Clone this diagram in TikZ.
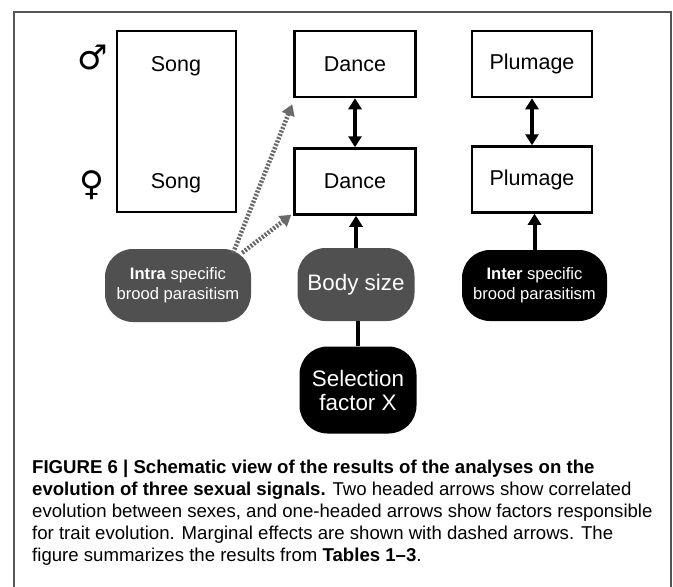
\documentclass[tikz,border=0pt]{standalone}
\usepackage{fontspec}
\setmainfont{Liberation Sans}
\newfontfamily\symfont{DejaVu Sans}
\usetikzlibrary{
    arrows.meta,
    positioning
}
\definecolor{ink}{RGB}{0,0,0}
\definecolor{frameline}{RGB}{85,85,85}
\definecolor{factorgray}{RGB}{80,80,80}
\definecolor{weakline}{RGB}{105,105,105}
\tikzset{
    trait/.style={
        rectangle,
        draw=ink,
        line width=2.5pt,
        fill=white,
        minimum width=121pt,
        minimum height=66pt,
        inner sep=0pt,
        font=\fontsize{21.5}{25}\selectfont
    },
    traitlabel/.style={
        inner sep=0pt,
        font=\fontsize{21.5}{25}\selectfont
    },
    sexsign/.style={
        inner sep=0pt,
        font=\symfont\fontsize{34}{34}\selectfont
    },
    factor/.style={
        rectangle,
        rounded corners=28pt,
        fill=factorgray,
        text=white,
        minimum width=117pt,
        minimum height=73pt,
        inner sep=0pt,
        align=center,
        font=\fontsize{22.4}{24}\selectfont
    },
    factorblack/.style={factor, fill=black},
    parasite/.style={font=\fontsize{16.6}{20}\selectfont},
    corr/.style={
        {Triangle[width=13pt,length=11pt]}-{Triangle[width=13pt,length=11pt]},
        draw=ink,
        line width=4pt
    },
    effect/.style={
        -{Triangle[width=13pt,length=11pt]},
        draw=ink,
        line width=4pt
    },
    marginal/.style={
        effect,
        draw=weakline,
        line width=4.5pt,
        dash pattern=on 2pt off 1.6pt
    },
    link/.style={
        draw=ink,
        line width=4pt
    },
    caption/.style={
        anchor=north west,
        inner sep=0pt,
        align=left,
        font=\fontsize{18.6}{22}\selectfont
    }
}

\begin{document}
\begin{tikzpicture}[x=1pt, y=-1pt]
\useasboundingbox (0,0) rectangle (673,587);

% frame, open at the bottom
\draw[frameline, line width=1.5pt] (14,587) -- (14,12) -- (671,12) -- (671,587);

% Song: one box for both sexes
\node[trait, minimum width=119pt, minimum height=181pt] (song) at (176.5,121.5) {};
\node[traitlabel] (songm) at (176,66) {Song};
\node[traitlabel] (songf) at (176,183) {Song};
\node[sexsign] (male) at (93,57) {♂};
\node[sexsign] (female) at (92,185) {♀};

% Dance
\node[trait] (dance1) at (355,64) {Dance};
\node[trait, below=49pt of dance1] (dance2) {Dance};

% Plumage
\node[trait, minimum width=120pt] (plum1) at (532,64) {Plumage};
\node[trait, minimum width=120pt, below=47pt of plum1] (plum2) {Plumage};

% factors
\node[factor, minimum width=146pt, parasite] (intra) at (178,285.5) {\textbf{Intra} specific\\brood parasitism};
\node[factor] (body) at (356,284.5) {Body size};
\node[factorblack, minimum width=145pt, minimum height=71pt, parasite] (inter) at (534.5,285.5) {\textbf{Inter} specific\\brood parasitism};
\node[factorblack, minimum height=87pt] (sel) at (358,390) {Selection\\factor X};

\draw[corr] (dance1) -- (dance2);
\draw[corr] (plum1) -- (plum2);
\draw[effect] (body) -- (body |- dance2.south);
\draw[effect] (inter) -- (inter |- plum2.south);
\draw[link] (sel) -- (sel |- body.south);
\draw[marginal] ([xshift=-18pt,yshift=-4pt]intra.north east) -- ([xshift=-1pt,yshift=-6pt]dance1.south west);
\draw[marginal] ([xshift=-9pt,yshift=-4pt]intra.north east) -- ([xshift=-2pt,yshift=1pt]dance2.south west);

\node[caption] (cap) at (32,460) {\textbf{FIGURE 6 | Schematic view of the results of the analyses on the}\\
\textbf{evolution of three sexual signals.} Two headed arrows show correlated\\
evolution between sexes, and one-headed arrows show factors responsible\\
for trait evolution. Marginal effects are shown with dashed arrows. The\\
figure summarizes the results from \textbf{Tables 1--3}.};
\end{tikzpicture}
\end{document}
